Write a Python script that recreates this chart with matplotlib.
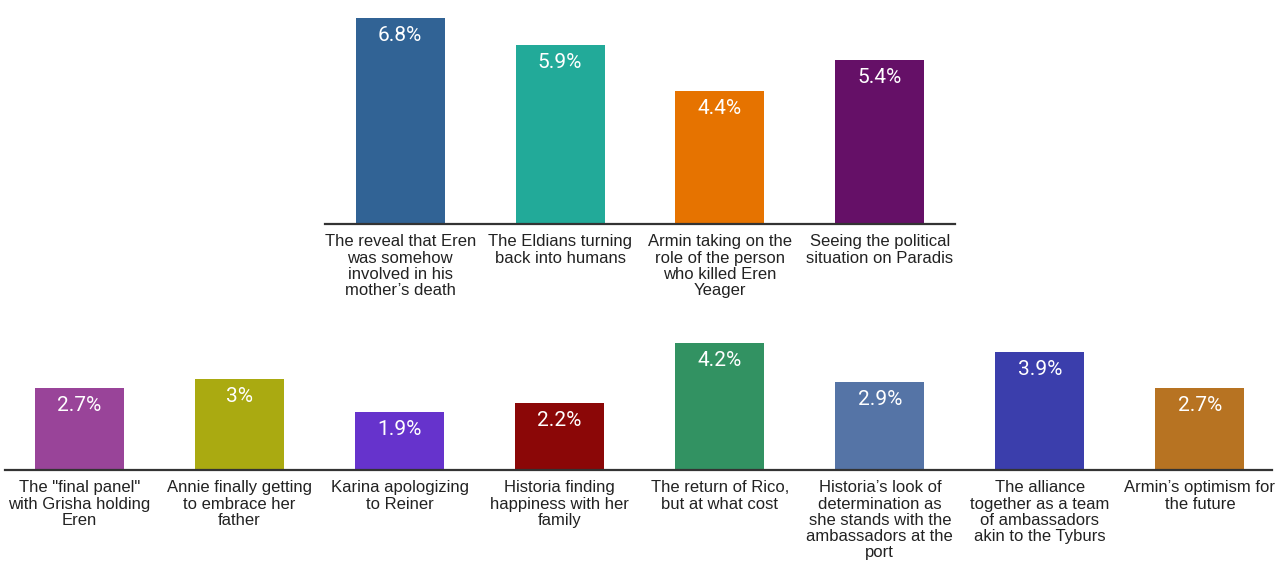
import matplotlib
matplotlib.use('Agg')
import matplotlib.pyplot as plt

# Data
top_labels = ["The reveal that Eren\nwas somehow\ninvolved in his\nmother\u2019s death",
              "The Eldians turning\nback into humans",
              "Armin taking on the\nrole of the person\nwho killed Eren\nYeager",
              "Seeing the political\nsituation on Paradis"]
top_values = [6.8, 5.9, 4.4, 5.4]
top_colors = ['#316395', '#22aa99', '#e67300', '#651067']

bottom_labels = ["The \"final panel\"\nwith Grisha holding\nEren",
                 "Annie finally getting\nto embrace her\nfather",
                 "Karina apologizing\nto Reiner",
                 "Historia finding\nhappiness with her\nfamily",
                 "The return of Rico,\nbut at what cost",
                 "Historia\u2019s look of\ndetermination as\nshe stands with the\nambassadors at the\nport",
                 "The alliance\ntogether as a team\nof ambassadors\nakin to the Tyburs",
                 "Armin\u2019s optimism for\nthe future"]
bottom_values = [2.7, 3, 1.9, 2.2, 4.2, 2.9, 3.9, 2.7]
bottom_colors = ['#994499', '#aaaa11', '#6633cc', '#8b0707',
                 '#329262', '#5574a6', '#3b3eac', '#b77322']

W, H = 1280, 583
fig = plt.figure(figsize=(W / 100, H / 100), dpi=100)

px_per_pct = 30.3


def draw_row(ax, labels, values, colors):
    x = list(range(len(values)))
    bars = ax.bar(x, values, width=0.556, color=colors)
    for b, v in zip(bars, values):
        ax.annotate(f"{v:g}%", (b.get_x() + b.get_width() / 2, v),
                    xytext=(0, -12.6), textcoords='offset points',
                    ha='center', va='center', color='white',
                    fontsize=15, family='Roboto')
    ax.set_xticks(x)
    ax.set_xticklabels(labels, fontsize=12, family='Liberation Sans',
                       color='#222222', linespacing=1.1)
    ax.tick_params(axis='x', length=0, pad=7.5)
    ax.set_yticks([])
    for s in ['top', 'left', 'right']:
        ax.spines[s].set_visible(False)
    ax.spines['bottom'].set_color('#333333')
    ax.spines['bottom'].set_linewidth(1.6)


# top row
top_ymax = 7.0
ax1 = fig.add_axes([325 / W, 1 - 224 / H, 630 / W, top_ymax * px_per_pct / H])
draw_row(ax1, top_labels, top_values, top_colors)
ax1.set_xlim(-0.47, 3.47)
ax1.set_ylim(0, top_ymax)

# bottom row
bot_ymax = 4.5
ax2 = fig.add_axes([5 / W, 1 - 470 / H, 1267 / W, bot_ymax * px_per_pct / H])
draw_row(ax2, bottom_labels, bottom_values, bottom_colors)
ax2.set_xlim(-0.465, 7.45)
ax2.set_ylim(0, bot_ymax)

fig.savefig('out.png', dpi=100, facecolor='white')
